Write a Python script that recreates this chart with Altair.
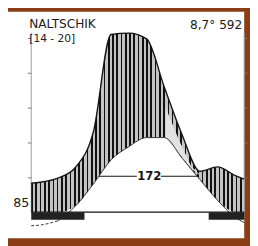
import altair as alt
import pandas as pd

# ---- data (Walter-Lieth climate diagram) ----
# x positions in months: left edge, mid-Jan ... mid-Dec, right edge
MONTH_POS = [0, 0.5, 1.5, 2.5, 3.5, 4.5, 5.5, 6.5, 7.5, 8.5, 9.5, 10.5, 11.5, 12]
TEMP_C = [-3.9, -3.7, -2.5, 1.8, 8.1, 15.0, 18.8, 21.4, 21.4, 15.5, 9.4, 3.4, -1.5, -3.0]
PRECIP_MM = [16.7, 17.2, 19.5, 25.8, 46.0, 102.0, 102.8, 99.5, 71.7, 44.5, 23.5, 26.0, 21.0, 19.0]

# relatively dry (dotted) band on the falling limb
DRY_POS = [7.58, 8.3, 9.0, 9.44]
DRY_TOP = [60.0, 42.0, 26.5, 22.0]
DRY_BOT = [42.2, 33.9, 25.2, 21.5]

# frost months (black bars below baseline)
FROST_START = [0, 10]
FROST_END = [3, 12]

# frost-free period line (two segments around the label)
FFREE_START = [3.4, 7.3]
FFREE_END = [5.95, 9.9]
FFREE_LEVEL = 20.6
FFREE_LABEL_POS = 6.65

Y_TICKS = [20, 40, 60, 80, 100]
MONTH_TICKS = list(range(1, 12))

STATION = "NALTSCHIK"
PERIOD = "[14 - 20]"
ANNUAL = "8,7° 592"
ABS_MIN = "85"
FROST_FREE_DAYS = "172"

# ---- styling ----
BROWN = "#8b3e16"
DARK = "#151515"
FONT = "DejaVu Sans"

xscale = alt.Scale(domain=[-1.309, 12], nice=False, zero=False)
yscale = alt.Scale(domain=[-15, 115], nice=False, zero=False)

df = pd.DataFrame({"m": MONTH_POS, "t": TEMP_C, "p": PRECIP_MM})
dry = pd.DataFrame({"m": DRY_POS, "top": DRY_TOP, "bot": DRY_BOT})
frost = pd.DataFrame({"s": FROST_START, "e": FROST_END})
ffree = pd.DataFrame({"s": FFREE_START, "e": FFREE_END, "lvl": [FFREE_LEVEL] * len(FFREE_START)})
one = alt.Data(values=[{}])


def xd(v):
    return alt.XDatum(v, scale=xscale, axis=None)


def yd(v):
    return alt.YDatum(v, scale=yscale, axis=None)


# hatching as a striped gradient
n_stripes = 50
stops = []
for i in range(n_stripes):
    a = i / n_stripes
    b = (i + 0.4) / n_stripes
    c = (i + 1) / n_stripes
    stops += [
        alt.GradientStop(color="#111111", offset=a),
        alt.GradientStop(color="#111111", offset=b),
        alt.GradientStop(color="#c4c4c4", offset=b),
        alt.GradientStop(color="#c4c4c4", offset=c),
    ]
hatch_fill = alt.LinearGradient(gradient="linear", stops=stops, x1=0, x2=1, y1=0, y2=0)

base = alt.Chart(df).transform_calculate(
    t2="datum.t * 2", lo="max(datum.t * 2, 0)"
)

# frost-free line
ffree_line = alt.Chart(ffree).mark_rule(color=DARK, strokeWidth=1.2).encode(
    x=alt.X("s:Q", scale=xscale, axis=None),
    x2="e:Q",
    y=alt.Y("lvl:Q", scale=yscale, axis=None),
)

hatch = base.mark_area(color=hatch_fill, interpolate="monotone").encode(
    x=alt.X("m:Q", scale=xscale,
            axis=alt.Axis(orient="top", offset=-207, values=MONTH_TICKS, labels=False,
                          domain=False, grid=False, tickSize=3, tickColor="#333",
                          title=None)),
    y=alt.Y("p:Q", scale=yscale,
            axis=alt.Axis(orient="left", offset=-24, values=Y_TICKS, labels=False,
                          domain=False, grid=False, tickSize=4, tickColor="#777",
                          title=None)),
    y2=alt.Y2("lo:Q"),
)

dotted = alt.Chart(dry).mark_area(color="#e2e2e2").encode(
    x=alt.X("m:Q", scale=xscale, axis=None),
    y=alt.Y("top:Q", scale=yscale, axis=None),
    y2="bot:Q",
)

temp_main = base.transform_filter("datum.m >= 1.5").mark_line(
    color="#333333", strokeWidth=1, interpolate="monotone"
).encode(
    x=alt.X("m:Q", scale=xscale, axis=None),
    y=alt.Y("t2:Q", scale=yscale, axis=None),
)

temp_winter = base.transform_filter("datum.m <= 1.5").mark_line(
    color="#333333", strokeWidth=1, strokeDash=[3, 2], interpolate="monotone"
).encode(
    x=alt.X("m:Q", scale=xscale, axis=None),
    y=alt.Y("t2:Q", scale=yscale, axis=None),
)

precip_line = base.mark_line(color=DARK, strokeWidth=1.4, interpolate="monotone").encode(
    x=alt.X("m:Q", scale=xscale, axis=None),
    y=alt.Y("p:Q", scale=yscale,
            axis=alt.Axis(orient="right", values=Y_TICKS, labels=False, domain=False,
                          grid=False, tickSize=3, tickColor="#777", title=None)),
)

axis_lines = alt.Chart(alt.Data(values=[{"x": 0}, {"x": 12}])).mark_rule(
    color="#9a9a9a", strokeWidth=1
).encode(
    x=alt.X("x:Q", scale=xscale, axis=None),
    y=yd(0),
    y2=alt.Y2Datum(103),
)

baseline = alt.Chart(one).mark_rule(color=DARK, strokeWidth=1.2).encode(
    x=xd(0), x2=alt.X2Datum(12), y=yd(0)
)

frost_bars = alt.Chart(frost).mark_rect(color="#222222").encode(
    x=alt.X("s:Q", scale=xscale, axis=None),
    x2="e:Q",
    y=yd(0),
    y2=alt.Y2Datum(-4.4),
)

ffree_text = alt.Chart(one).mark_text(
    text=FROST_FREE_DAYS, font=FONT, fontSize=12, fontWeight="bold", color=DARK,
    align="center", baseline="middle",
).encode(x=xd(FFREE_LABEL_POS), y=yd(FFREE_LEVEL))


def label(txt, x, y, size, align="left"):
    return alt.Chart(one).mark_text(
        text=txt, font=FONT, fontSize=size, color="#202020", align=align,
        baseline="alphabetic",
    ).encode(x=alt.value(x), y=alt.value(y))


chart = alt.layer(
    axis_lines,
    ffree_line,
    hatch,
    dotted,
    temp_main,
    temp_winter,
    precip_line,
    baseline,
    frost_bars,
    ffree_text,
    label(STATION, 22, 17, 12.5),
    label(PERIOD, 22, 31, 11),
    label(ANNUAL, 242, 18, 12.5, align="right"),
    label(ABS_MIN, 22, 202, 13, align="right"),
).resolve_axis(y="independent").properties(
    width=244,
    height=234,
    padding={"left": 0, "top": 0, "right": 6, "bottom": 4},
    autosize=alt.AutoSizeParams(type="none"),
    background=BROWN,
).configure_view(stroke=None, fill="white")

chart.save("out.html", embed_options={"renderer": "svg", "actions": False})
